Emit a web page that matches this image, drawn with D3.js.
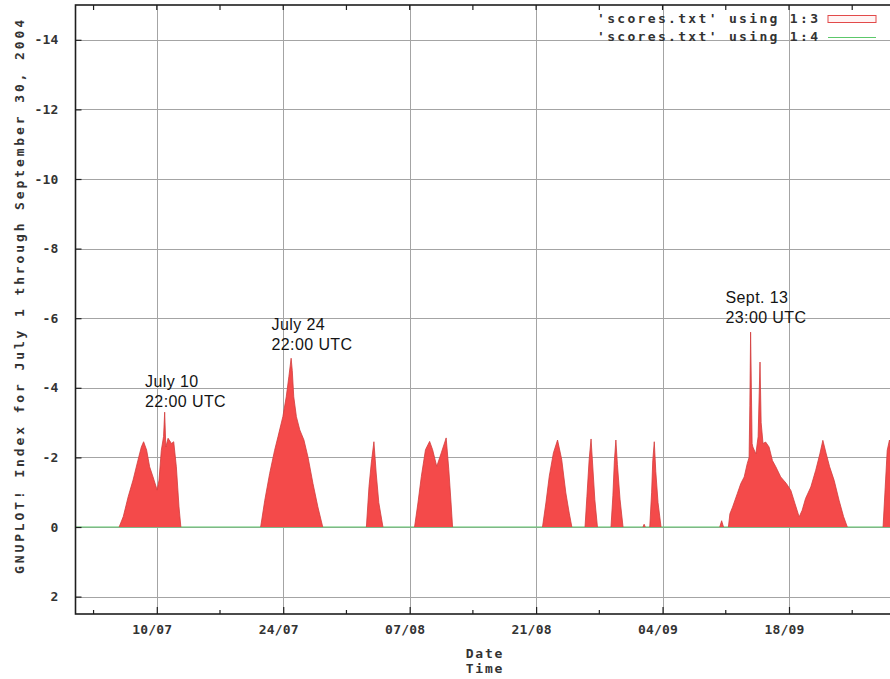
<!DOCTYPE html>
<html><head><meta charset="utf-8">
<script src="https://cdn.jsdelivr.net/npm/d3@7"></script>
<style>
html,body{margin:0;padding:0;background:#fff;}
svg{display:block;}
</style></head><body>
<svg id="chart" width="890" height="679"></svg>
<script>
// ---------- data ----------
const sampleTimes = [
  "07-05 20:00","07-06 07:00","07-06 20:00","07-07 09:00","07-07 22:00","07-08 07:00","07-08 13:00","07-08 21:00",
  "07-09 05:00","07-09 14:00","07-10 01:00","07-10 06:00","07-10 12:00","07-10 18:00","07-10 21:00","07-11 00:00",
  "07-11 06:00","07-11 15:00","07-11 21:00","07-12 04:00","07-12 11:00","07-12 16:00",
  "07-21 12:00","07-21 23:00","07-22 12:00","07-23 01:00","07-23 10:00","07-23 23:00","07-24 08:00","07-24 15:00",
  "07-24 21:00","07-25 00:00","07-25 04:00","07-25 11:00","07-25 20:00","07-26 07:00","07-26 18:00","07-27 07:00",
  "07-27 20:00","07-28 09:00",
  "08-02 05:00","08-02 12:00","08-02 18:00","08-03 01:00","08-03 07:00","08-03 14:00","08-04 01:00",
  "08-07 13:00","08-07 22:00","08-08 07:00","08-08 18:00","08-09 05:00","08-09 13:00","08-10 00:00","08-10 12:00",
  "08-11 01:00","08-11 08:00","08-11 14:00","08-11 18:00",
  "08-21 17:00","08-22 02:00","08-22 11:00","08-22 22:00","08-23 09:00","08-23 20:00","08-24 07:00","08-24 16:00","08-24 23:00",
  "08-26 10:00","08-26 15:00","08-26 21:00","08-27 02:00","08-27 06:00","08-27 12:00","08-27 19:00",
  "08-29 07:00","08-29 12:00","08-29 16:00","08-29 20:00","08-30 00:00","08-30 07:00","08-30 15:00",
  "09-01 20:00","09-01 23:00","09-02 02:00",
  "09-02 14:00","09-02 19:00","09-02 22:00","09-03 02:00","09-03 06:00","09-03 12:00","09-03 20:00",
  "09-10 08:00","09-10 13:00","09-10 18:00",
  "09-11 07:00","09-11 11:00","09-11 18:00","09-12 07:00","09-12 16:00","09-13 01:00","09-13 09:00","09-13 14:00",
  "09-13 16:00","09-13 18:00","09-13 20:00","09-13 22:00","09-14 00:00","09-14 08:00","09-14 14:00","09-14 19:00",
  "09-14 22:00","09-15 03:00","09-15 10:00","09-15 19:00","09-16 04:00","09-16 13:00","09-17 02:00","09-17 17:00",
  "09-18 05:00","09-18 16:00","09-19 03:00","09-19 11:00","09-19 20:00","09-20 10:00","09-20 23:00","09-21 10:00",
  "09-21 18:00","09-22 03:00","09-22 12:00","09-23 00:00","09-23 13:00","09-24 01:00","09-24 11:00",
  "09-28 10:00","09-28 15:00","09-28 21:00","09-29 03:00","09-29 10:00","09-29 18:00"
];
const scoreValues = [
  0,-0.30,-0.87,-1.35,-1.92,-2.30,-2.45,-2.21,
  -1.73,-1.44,-1.06,-1.35,-2.20,-2.60,-3.30,-2.30,
  -2.55,-2.40,-2.45,-1.73,-0.58,0,
  0,-0.77,-1.54,-2.20,-2.59,-3.17,-3.74,-4.32,
  -4.85,-4.50,-3.74,-3.17,-2.79,-2.50,-2.00,-1.25,
  -0.58,0,
  0,-1.17,-1.84,-2.45,-1.55,-0.70,0,
  0,-0.69,-1.45,-2.22,-2.46,-2.22,-1.74,-2.13,
  -2.56,-1.65,-0.69,0,
  0,-0.69,-1.46,-2.13,-2.50,-1.94,-0.98,-0.40,0,
  0,-0.88,-1.94,-2.53,-1.84,-0.79,0,
  0,-0.90,-1.90,-2.50,-1.80,-0.80,0,
  0,-0.08,0,
  0,-1.00,-1.90,-2.45,-1.60,-0.70,0,
  0,-0.18,0,
  0,-0.38,-0.57,-0.97,-1.25,-1.44,-1.82,-2.00,
  -3.50,-5.60,-4.00,-2.40,-2.30,-2.10,-2.60,-4.74,
  -3.00,-2.40,-2.44,-2.30,-1.91,-1.73,-1.44,-1.25,
  -1.05,-0.67,-0.29,-0.48,-0.82,-1.15,-1.63,-2.10,
  -2.49,-2.10,-1.73,-1.34,-0.77,-0.30,0,
  0,-1.00,-2.20,-2.50,-1.50,0
];
const baselineTimes = ["07-01 00:00","10-01 00:00"];
const baselineValues = [0, 0];
const majorTickDates = ["07-10","07-24","08-07","08-21","09-04","09-18"];
const minorTickDates = ["07-03","07-17","07-31","08-14","08-28","09-11","09-25"];
const yTickValues = [-14,-12,-10,-8,-6,-4,-2,0,2];
const yTickLabels = ["-14","-12","-10","-8","-6","-4","-2","0","2"];
const legendLabels = ["'scores.txt' using 1:3","'scores.txt' using 1:4"];
const yAxisTitle = "GNUPLOT! Index for July 1 through September 30, 2004";
const xAxisTitle = ["Date","Time"];
const annotationTexts = [["July 10","22:00 UTC"],["July 24","22:00 UTC"],["Sept. 13","23:00 UTC"]];
const annotationTimes = ["07-10 22:00","07-24 22:00","09-13 23:00"];

// ---------- setup ----------
const parseT = s => d3.utcParse("%Y-%m-%d %H:%M")("2004-" + s);
const parseD = s => d3.utcParse("%Y-%m-%d")("2004-" + s);
const L = 75.5, R = 906.4, T = 5, B = 614;
const svg = d3.select("#chart");
const mono = "'DejaVu Sans Mono', monospace";
const txtCol = "#333";

const x = d3.scaleUtc().domain([parseT("07-01 00:00"), parseT("10-01 00:00")]).range([L, R]);
const y = d3.scaleLinear().domain([2.5, -15]).range([B, T]);

svg.append("defs").append("clipPath").attr("id","plotclip")
  .append("rect").attr("x", L).attr("y", T).attr("width", R - L).attr("height", B - T);

// gridlines
const grid = svg.append("g").attr("stroke", "#a4a4a4").attr("stroke-width", 1).attr("clip-path","url(#plotclip)");
yTickValues.forEach(v => grid.append("line").attr("x1", L).attr("x2", R).attr("y1", Math.round(y(v))+0.5).attr("y2", Math.round(y(v))+0.5));
majorTickDates.forEach(d => grid.append("line").attr("y1", T).attr("y2", B).attr("x1", Math.round(x(parseD(d)))+0.5).attr("x2", Math.round(x(parseD(d)))+0.5));

// data
const pts = sampleTimes.map((t, i) => ({t: parseT(t), v: scoreValues[i]}));
const base = baselineTimes.map((t, i) => ({t: parseT(t), v: baselineValues[i]}));

const plot = svg.append("g").attr("clip-path","url(#plotclip)");
plot.append("path").datum(base)
  .attr("d", d3.line().x(d => x(d.t)).y(d => y(d.v)))
  .attr("fill","none").attr("stroke","#5cc86a").attr("stroke-width",1.2);

// split into separate filled pieces
const groups = []; let cur = [];
pts.forEach(p => {
  if (p.v === 0) {
    if (cur.length && cur.some(q => q.v !== 0)) { cur.push(p); groups.push(cur); cur = []; }
    else cur = [p];
  } else cur.push(p);
});
if (cur.length) groups.push(cur);

const area = d3.area().x(d => x(d.t)).y0(y(0)).y1(d => y(d.v));
const topLine = d3.line().x(d => x(d.t)).y(d => y(d.v));
groups.forEach(g => {
  plot.append("path").datum(g).attr("d", area).attr("fill", "#f44a4a");
  plot.append("path").datum(g).attr("d", topLine).attr("fill","none")
    .attr("stroke","#d23c3c").attr("stroke-width",0.8).attr("stroke-linejoin","round");
});

// border
svg.append("rect").attr("x", L).attr("y", T).attr("width", R - L).attr("height", B - T)
  .attr("fill","none").attr("stroke","#1e1e1e").attr("stroke-width",1.6);

// x axis (bottom, inward ticks)
const xAxis = d3.axisBottom(x).tickValues(majorTickDates.map(parseD))
  .tickFormat(d3.utcFormat("%d/%m")).tickSize(-7).tickPadding(11);
const gx = svg.append("g").attr("transform", `translate(0,${B})`).call(xAxis);
gx.select(".domain").remove();
gx.selectAll(".tick line").attr("stroke","#1e1e1e").attr("stroke-width",1.2);
gx.selectAll(".tick text").attr("font-family", mono).attr("font-size", 13).attr("font-weight","bold")
  .attr("letter-spacing", 0.2).attr("fill", txtCol).attr("dx", -5);
// minor ticks bottom
minorTickDates.forEach(d => svg.append("line").attr("x1", x(parseD(d))).attr("x2", x(parseD(d)))
  .attr("y1", B).attr("y2", B - 4).attr("stroke","#1e1e1e").attr("stroke-width",1.2));
// top ticks (mirror)
majorTickDates.concat(minorTickDates).forEach(d => svg.append("line")
  .attr("x1", x(parseD(d))).attr("x2", x(parseD(d))).attr("y1", T).attr("y2", T + 5)
  .attr("stroke","#1e1e1e").attr("stroke-width",1.2));

// y axis (left, inward ticks)
const yAxis = d3.axisLeft(y).tickValues(yTickValues)
  .tickFormat((d, i) => yTickLabels[i]).tickSize(-6).tickPadding(17);
const gy = svg.append("g").attr("transform", `translate(${L},0)`).call(yAxis);
gy.select(".domain").remove();
gy.selectAll(".tick line").attr("stroke","#1e1e1e").attr("stroke-width",1.2);
gy.selectAll(".tick text").attr("font-family", mono).attr("font-size", 13).attr("font-weight","bold")
  .attr("letter-spacing", 0.2).attr("fill", txtCol);

// axis titles
svg.append("text").attr("transform", "translate(24,297) rotate(-90)")
  .attr("text-anchor","middle").attr("font-family", mono).attr("font-size", 13).attr("font-weight","bold")
  .attr("fill", txtCol).attr("textLength", 554).attr("lengthAdjust","spacing").text(yAxisTitle);
xAxisTitle.forEach((t, i) => svg.append("text").attr("x", 485).attr("y", 658 + i * 15)
  .attr("text-anchor","middle").attr("font-family", mono).attr("font-size", 13).attr("font-weight","bold")
  .attr("letter-spacing", 1.8).attr("fill", txtCol).text(t));

// legend
legendLabels.forEach((t, i) => svg.append("text").attr("x", 597).attr("y", 23 + i * 18)
  .attr("font-family", mono).attr("font-size", 13).attr("font-weight","bold").attr("fill", txtCol)
  .attr("textLength", 221).attr("lengthAdjust","spacing").text(t));
svg.append("rect").attr("x", 828).attr("y", 15.5).attr("width", 48).attr("height", 7)
  .attr("fill","#fff4f4").attr("stroke","#e24a4a").attr("stroke-width",1);
svg.append("line").attr("x1", 828).attr("x2", 876).attr("y1", 37.5).attr("y2", 37.5)
  .attr("stroke","#5cc86a").attr("stroke-width",1.2);

// annotations
const annDx = [-20, -20, -27];
const annBaseY = [387, 330, 303];
annotationTexts.forEach((lines, k) => {
  const ax = x(parseT(annotationTimes[k])) + annDx[k];
  lines.forEach((s, j) => svg.append("text").attr("x", ax).attr("y", annBaseY[k] + j * 20)
    .attr("font-family", "'Liberation Sans', Arial, sans-serif").attr("font-size", 16)
    .attr("letter-spacing", 0.4).attr("fill","#141414").text(s));
});
</script>
</body></html>
